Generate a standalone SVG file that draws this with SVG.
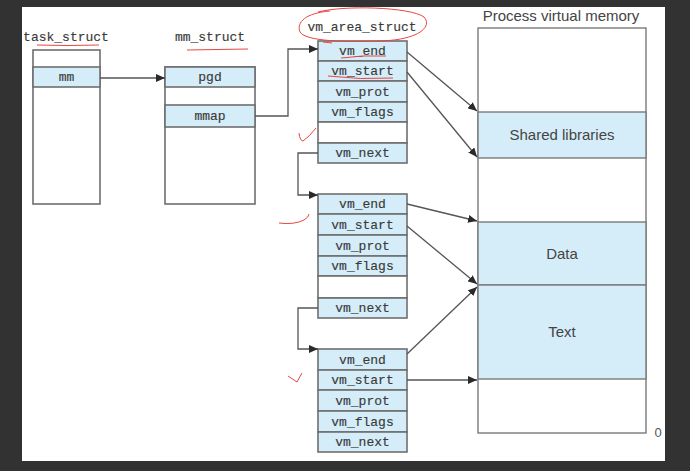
<svg xmlns="http://www.w3.org/2000/svg" width="690" height="471" viewBox="0 0 690 471">
<defs>
<marker id="ah" markerWidth="9" markerHeight="8" refX="9" refY="4" orient="auto" markerUnits="userSpaceOnUse">
<path d="M0,0 L9,4 L0,8 Z" fill="#2a2a2a"/>
</marker>
<style>
.bx{fill:#ffffff;stroke:#6e6e6e;stroke-width:1.6}
.fd{fill:#d5edf9;stroke:#6e6e6e;stroke-width:1.6}
.mb{fill:#ffffff;stroke:#7a7a7a;stroke-width:1.4}
.mf{fill:#d5edf9;stroke:#7a7a7a;stroke-width:1.4}
.tt{font-family:"Liberation Mono",monospace;font-size:13px;fill:#3a3a3a;stroke:#3a3a3a;stroke-width:0.15;text-anchor:middle}
.st{font-family:"Liberation Sans",Arial,sans-serif;font-size:15px;fill:#444;text-anchor:middle}
.ar{fill:none;stroke:#555;stroke-width:1.3;marker-end:url(#ah)}
.rd{fill:none;stroke:#e8463f;stroke-width:1}
</style>
</defs>
<rect x="0" y="0" width="690" height="471" fill="#323232"/>
<rect x="22" y="7" width="643" height="454" fill="#ffffff"/>

<g id="task_struct">
<text class="tt" x="66" y="41">task_struct</text>
<rect class="bx" x="33" y="50" width="67" height="154"/>
<rect class="fd" x="33" y="67" width="67" height="20"/>
<text class="tt" x="66.5" y="81">mm</text>
</g>

<g id="mm_struct">
<text class="tt" x="210" y="41">mm_struct</text>
<rect class="bx" x="165" y="67" width="90" height="137"/>
<rect class="fd" x="165" y="67" width="90" height="20"/>
<text class="tt" x="210" y="81">pgd</text>
<rect class="fd" x="165" y="105" width="90" height="22"/>
<text class="tt" x="210" y="120">mmap</text>
</g>

<g id="vma1">
<text class="tt" x="362" y="31">vm_area_struct</text>
<rect class="fd" x="318" y="41" width="89" height="20"/>
<text class="tt" x="362.5" y="55">vm_end</text>
<rect class="fd" x="318" y="61" width="89" height="20"/>
<text class="tt" x="362.5" y="75">vm_start</text>
<rect class="fd" x="318" y="81" width="89" height="21"/>
<text class="tt" x="362.5" y="96">vm_prot</text>
<rect class="fd" x="318" y="102" width="89" height="20"/>
<text class="tt" x="362.5" y="116">vm_flags</text>
<rect class="bx" x="318" y="122" width="89" height="21"/>
<rect class="fd" x="318" y="143" width="89" height="20"/>
<text class="tt" x="362.5" y="157">vm_next</text>
</g>

<g id="vma2">
<rect class="fd" x="318" y="194" width="89" height="20"/>
<text class="tt" x="362.5" y="208">vm_end</text>
<rect class="fd" x="318" y="214" width="89" height="21"/>
<text class="tt" x="362.5" y="229">vm_start</text>
<rect class="fd" x="318" y="235" width="89" height="21"/>
<text class="tt" x="362.5" y="250">vm_prot</text>
<rect class="fd" x="318" y="256" width="89" height="20"/>
<text class="tt" x="362.5" y="270">vm_flags</text>
<rect class="bx" x="318" y="276" width="89" height="22"/>
<rect class="fd" x="318" y="298" width="89" height="20"/>
<text class="tt" x="362.5" y="312">vm_next</text>
</g>

<g id="vma3">
<rect class="fd" x="318" y="349" width="89" height="21"/>
<text class="tt" x="362.5" y="364">vm_end</text>
<rect class="fd" x="318" y="370" width="89" height="20"/>
<text class="tt" x="362.5" y="384">vm_start</text>
<rect class="fd" x="318" y="390" width="89" height="21"/>
<text class="tt" x="362.5" y="405">vm_prot</text>
<rect class="fd" x="318" y="411" width="89" height="21"/>
<text class="tt" x="362.5" y="426">vm_flags</text>
<rect class="fd" x="318" y="432" width="89" height="20"/>
<text class="tt" x="362.5" y="446">vm_next</text>
</g>

<g id="memory">
<text class="st" x="561" y="21">Process virtual memory</text>
<rect class="mb" x="478" y="28" width="168" height="405"/>
<rect class="mf" x="478" y="112" width="168" height="46"/>
<text class="st" x="562" y="140">Shared libraries</text>
<rect class="mf" x="478" y="222" width="168" height="63"/>
<text class="st" x="562" y="259">Data</text>
<rect class="mf" x="478" y="285" width="168" height="94"/>
<text class="st" x="562" y="337">Text</text>
<text x="658" y="437" font-family="Liberation Sans, Arial, sans-serif" font-size="13" fill="#555" text-anchor="middle">0</text>
</g>

<g id="connectors">
<path class="ar" d="M100 78 H165"/>
<path class="ar" d="M255 116 H288 V49 H318"/>
<path class="ar" d="M318 153 H298 V195 H318"/>
<path class="ar" d="M318 308 H298 V349 H318"/>
<path class="ar" d="M407 52 L477 111"/>
<path class="ar" d="M407 72 L477 157"/>
<path class="ar" d="M407 204 L477 221"/>
<path class="ar" d="M407 226 L477 284"/>
<path class="ar" d="M407 354 L477 287"/>
<path class="ar" d="M407 380 H477"/>
</g>

<g id="annotations">
<path class="rd" d="M37 45 Q68 46 99 45"/>
<path class="rd" d="M187 50 L248 49"/>
<path class="rd" d="M318 12 C345 5 410 7 424 17 C433 27 418 40 380 41 C350 42 306 42 300 32 C296 22 306 13 330 11"/>
<path class="rd" d="M323 42 L332 43"/>
<path class="rd" d="M341 58 Q362 55 386 56"/>
<path class="rd" d="M328 76 Q360 80 393 78"/>
<path class="rd" d="M299 133 Q300 141 303 141 Q309 137 316 128"/>
<path class="rd" d="M279 223 Q294 225 304 220 Q309 217 309 214"/>
<path class="rd" d="M288 376 L297 382 L302 373"/>
</g>
</svg>
